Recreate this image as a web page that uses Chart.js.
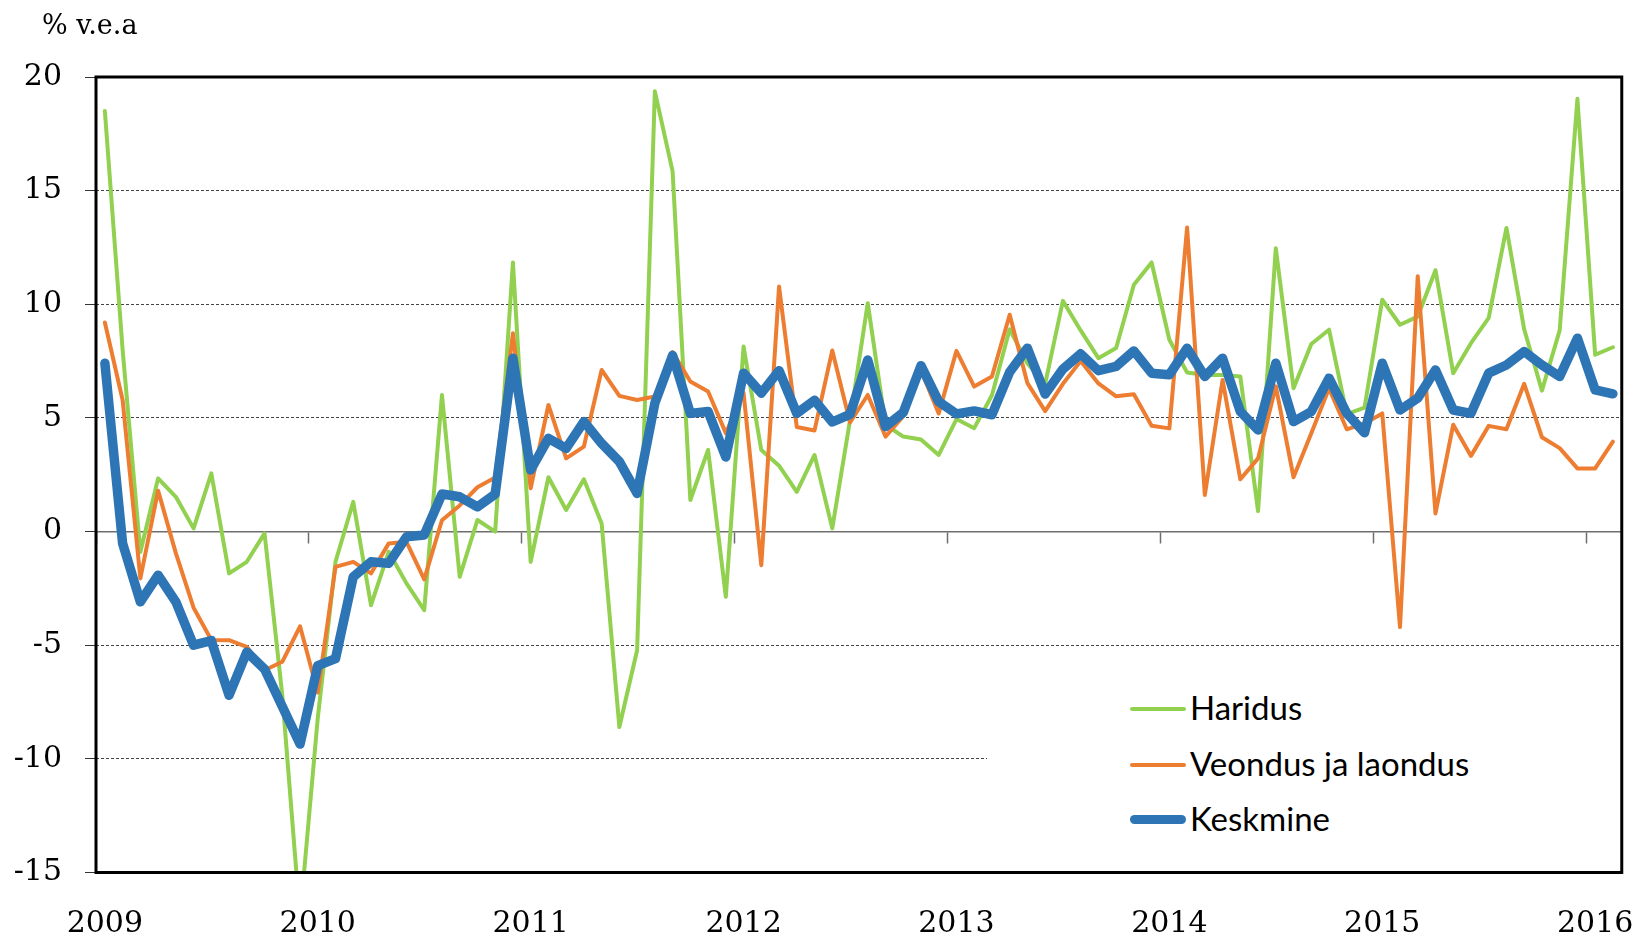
<!DOCTYPE html>
<html>
<head>
<meta charset="utf-8">
<script src="https://cdn.jsdelivr.net/npm/chart.js@4.4.1/dist/chart.umd.min.js"></script>
<style>
html,body{margin:0;padding:0;background:#fff;}
#wrap{position:relative;width:1647px;height:937px;overflow:hidden;}
#c{position:absolute;left:0;top:0;}
#ytitle{position:absolute;left:42px;top:11px;font-family:"DejaVu Serif";font-size:27px;line-height:27px;color:#000;white-space:nowrap;}
#legend{position:absolute;left:987px;top:655px;width:632px;height:205px;background:#fff;}
.sw{position:absolute;left:143px;width:56px;border-radius:3px;}
.lab{position:absolute;left:203px;font-family:Lato,"Open Sans",sans-serif;font-size:33px;line-height:33px;color:#000;white-space:nowrap;}
</style>
</head>
<body>
<div id="wrap">
  <canvas id="c" width="1647" height="937"></canvas>
  <div id="ytitle">% v.e.a</div>
  <div id="legend">
    <div class="sw" style="top:52px;height:4px;background:#92D050;"></div>
    <div class="lab" style="top:36px;">Haridus</div>
    <div class="sw" style="top:108px;height:4px;background:#ED7D31;"></div>
    <div class="lab" style="top:92px;">Veondus ja laondus</div>
    <div class="sw" style="top:160px;height:9px;border-radius:5px;background:#2E75B6;"></div>
    <div class="lab" style="top:147px;">Keskmine</div>
  </div>
</div>
<script>
// ---- data ----
const yearLabels = ['2009','2010','2011','2012','2013','2014','2015','2016'];
const yTicks = [-15,-10,-5,0,5,10,15,20];

// monthly categories Jan 2009 .. Feb 2016
const months = [];
for (let y = 2009; y <= 2016; y++) {
  for (let m = 1; m <= 12; m++) {
    if (y === 2016 && m > 2) break;
    months.push(y + '-' + String(m).padStart(2, '0'));
  }
}

const haridus = [
  18.5, 8.0, -0.9, 2.34, 1.53, 0.14, 2.56, -1.84, -1.33, -0.08, -7.2, -17.0,
  -8.2, -1.33, 1.31, -3.24, -0.89, -2.28, -3.46, 6.01, -1.99, 0.51, 0.0, 11.84,
  -1.33, 2.39, 0.95, 2.3, 0.36, -8.6, -5.22, 19.37, 15.85, 1.39, 3.59, -2.87,
  8.14, 3.59, 2.9, 1.75, 3.37, 0.14, 4.9, 10.05, 4.7, 4.18, 4.05, 3.37,
  4.95, 4.55, 6.0, 8.9, 7.4, 6.5, 10.15, 8.85, 7.63, 8.08, 10.86, 11.84,
  8.44, 7.0, 6.89, 6.89, 6.82, 0.9, 12.47, 6.31, 8.25, 8.88, 5.17, 5.45,
  10.2, 9.1, 9.46, 11.5, 6.97, 8.29, 9.4, 13.36, 8.9, 6.2, 8.85, 19.04,
  7.78, 8.11
];

const veondus = [
  9.2, 5.79, -2.06, 1.8, -0.95, -3.35, -4.77, -4.78, -5.07, -6.1, -5.73, -4.17,
  -7.08, -1.55, -1.33, -1.84, -0.52, -0.45, -2.1, 0.5, 1.15, 1.95, 2.38, 8.73,
  1.9, 5.57, 3.22, 3.74, 7.11, 5.97, 5.79, 5.94, 7.9, 6.6, 6.16, 4.33,
  6.1, -1.48, 10.78, 4.6, 4.45, 7.97, 4.8, 6.01, 4.18, 5.08, 7.1, 5.2,
  7.95, 6.38, 6.82, 9.54, 6.53, 5.3, 6.5, 7.5, 6.52, 5.95, 6.04, 4.66,
  4.54, 13.38, 1.61, 6.67, 2.3, 3.22, 6.39, 2.39, 4.33, 6.3, 4.5, 4.76,
  5.2, -4.2, 11.23, 0.8, 4.7, 3.33, 4.65, 4.5, 6.5, 4.15, 3.67, 2.78,
  2.78, 3.96
];

const keskmine = [
  7.41, -0.52, -3.09, -1.92, -3.09, -5.0, -4.8, -7.2, -5.3, -6.05, -7.7, -9.35,
  -5.9, -5.59, -1.99, -1.33, -1.4, -0.23, -0.15, 1.65, 1.53, 1.09, 1.65, 7.63,
  2.71, 4.1, 3.66, 4.84, 3.88, 3.08, 1.68, 5.65, 7.75, 5.2, 5.28, 3.28,
  6.97, 6.09, 7.08, 5.2, 5.78, 4.82, 5.16, 7.55, 4.62, 5.24, 7.3, 5.72,
  5.18, 5.31, 5.14, 7.02, 8.07, 6.05, 7.15, 7.82, 7.08, 7.27, 7.95, 6.97,
  6.9, 8.07, 6.82, 7.63, 5.28, 4.47, 7.41, 4.84, 5.28, 6.75, 5.2, 4.35,
  7.41, 5.35, 5.87, 7.11, 5.35, 5.2, 6.97, 7.33, 7.92, 7.33, 6.82, 8.51,
  6.23, 6.06
];

// ---- chart ----
const boxPlugin = {
  id: 'plotBox',
  afterDatasetsDraw(chart) {
    const a = chart.chartArea, ctx = chart.ctx;
    ctx.save();
    ctx.strokeStyle = '#000';
    ctx.lineWidth = 3;
    ctx.strokeRect(a.left, a.top, a.right - a.left, a.bottom - a.top);
    ctx.restore();
  }
};

const serif = {family: 'DejaVu Serif', size: 30};

new Chart(document.getElementById('c'), {
  type: 'line',
  data: {
    labels: months,
    datasets: [
      {label: 'Haridus', data: haridus, borderColor: '#92D050', borderWidth: 4, order: 3},
      {label: 'Veondus ja laondus', data: veondus, borderColor: '#ED7D31', borderWidth: 4, order: 2},
      {label: 'Keskmine', data: keskmine, borderColor: '#2E75B6', borderWidth: 9.5, order: 1}
    ]
  },
  options: {
    responsive: false,
    animation: false,
    devicePixelRatio: 1,
    layout: {padding: {left: 0, top: 77, right: 18, bottom: 0}},
    elements: {
      line: {tension: 0, fill: false, borderCapStyle: 'round', borderJoinStyle: 'round'},
      point: {radius: 0, hoverRadius: 0}
    },
    plugins: {legend: {display: false}, title: {display: false}, tooltip: {enabled: false}},
    scales: {
      x: {
        type: 'category',
        position: 'bottom',
        offset: true,
        grid: {display: false, drawTicks: false, offset: true},
        border: {display: false},
        ticks: {
          autoSkip: false, maxRotation: 0, minRotation: 0, padding: 34,
          color: '#000', font: serif,
          callback: (v, i) => (i % 12 === 0 ? yearLabels[i / 12] : '')
        },
        afterFit: s => { s.height = 64.5; }
      },
      x2: {
        type: 'category',
        position: {y: 0},
        offset: true,
        grid: {
          display: true, drawOnChartArea: false, drawTicks: true, offset: true,
          tickLength: 11, tickWidth: 1.5,
          color: c => (c.index % 12 === 0 ? '#6e6e6e' : 'rgba(0,0,0,0)'),
          tickColor: c => (c.index % 12 === 0 ? '#6e6e6e' : 'rgba(0,0,0,0)')
        },
        border: {display: true, color: '#6e6e6e', width: 1.5},
        ticks: {display: false, autoSkip: false}
      },
      y: {
        type: 'linear',
        min: yTicks[0],
        max: yTicks[yTicks.length - 1],
        ticks: {
          stepSize: 5, padding: 23, color: '#000', font: serif,
          callback: v => String(v)
        },
        grid: {
          drawTicks: true, tickLength: 11, tickWidth: 1, tickColor: '#333',
          lineWidth: 1,
          color: c => {
            const v = c.tick ? c.tick.value : null;
            return (v === 0 || v === 20 || v === -15) ? 'rgba(0,0,0,0)' : '#444';
          }
        },
        border: {display: false, dash: [3, 2]},
        afterFit: s => { s.width = 96; }
      }
    }
  },
  plugins: [boxPlugin]
});
</script>
</body>
</html>
